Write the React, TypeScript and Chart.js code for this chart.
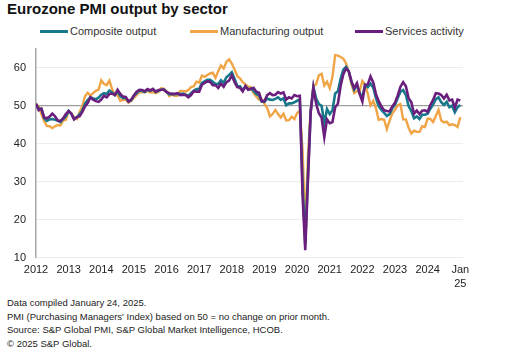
import React, { useEffect, useRef } from "react";
import { Chart, registerables } from "chart.js";

Chart.register(...registerables);

const composite = [
  50.4, 49.3, 49.1, 46.7, 46.0, 46.4, 46.5, 46.3, 46.1, 45.7, 46.5, 47.2,
  48.6, 47.9, 46.5, 46.9, 47.7, 48.7, 50.5, 51.5, 52.2, 51.9, 51.7, 52.1,
  52.9, 53.3, 53.1, 54.0, 53.5, 52.8, 53.8, 52.5, 52.0, 52.1, 51.1, 51.4,
  52.6, 53.3, 54.0, 53.9, 53.6, 54.2, 53.9, 54.3, 53.6, 53.9, 54.2, 54.3,
  53.6, 53.0, 53.1, 53.0, 53.1, 53.1, 53.2, 52.9, 52.6, 53.3, 53.9, 54.4,
  54.4, 56.0, 56.4, 56.8, 56.8, 56.3, 55.7, 55.7, 56.7, 56.0, 57.5, 58.1,
  58.8, 57.1, 55.2, 55.1, 54.1, 54.9, 54.3, 54.5, 53.9, 53.1, 52.7, 51.1,
  51.0, 51.9, 51.6, 51.5, 51.8, 52.2, 51.5, 51.9, 50.1, 50.6, 50.6, 50.9,
  51.3, 51.6, 29.7, 13.6, 31.9, 48.5, 54.9, 51.9, 50.4, 50.0, 45.3, 49.1,
  47.8, 48.8, 53.2, 53.8, 57.1, 59.5, 60.2, 59.0, 56.2, 54.2, 55.4, 53.3,
  52.3, 55.5, 54.9, 55.8, 54.8, 52.0, 49.9, 48.9, 48.1, 47.3, 47.8, 49.3,
  50.3, 52.0, 53.7, 54.1, 52.8, 49.9, 48.6, 46.7, 47.2, 46.5, 47.6, 47.6,
  47.9, 49.2, 50.3, 51.7, 52.2, 50.9, 50.2, 51.0, 49.6, 50.0, 48.3, 49.6,
  50.2,
];

const manufacturing = [
  50.5, 49.8, 47.7, 45.9, 44.7, 44.6, 44.1, 44.6, 44.9, 44.8, 46.1, 46.3,
  48.6, 48.0, 46.9, 46.5, 48.3, 49.8, 52.5, 53.4, 52.7, 53.3, 53.9, 54.2,
  56.7, 55.7, 55.4, 56.6, 54.3, 52.8, 52.8, 51.3, 51.5, 51.6, 50.8, 51.3,
  52.1, 52.8, 53.6, 53.5, 53.5, 53.9, 53.5, 53.6, 53.3, 53.6, 54.6, 54.5,
  53.8, 52.5, 52.9, 52.6, 52.6, 53.9, 53.9, 53.7, 54.1, 54.9, 55.1, 56.3,
  56.1, 57.9, 57.6, 58.1, 58.5, 58.7, 57.3, 59.1, 60.6, 59.8, 61.5, 62.2,
  61.1, 59.5, 57.8, 57.2, 56.2, 55.6, 55.0, 54.9, 53.3, 52.4, 51.6, 51.7,
  50.5, 49.4, 47.2, 47.8, 48.9, 47.8, 46.9, 47.9, 46.1, 46.2, 47.1, 46.5,
  48.0, 48.7, 38.5, 18.1, 36.8, 49.0, 55.3, 55.6, 58.0, 58.4, 55.3, 56.3,
  54.6, 57.6, 63.3, 63.2, 62.8, 62.4, 61.1, 59.0, 55.6, 53.3, 53.8, 53.8,
  56.5, 55.5, 53.1, 50.1, 51.3, 49.3, 46.3, 46.5, 46.3, 43.8, 46.0, 48.0,
  48.9, 50.1, 50.4, 46.4, 46.4, 44.2, 42.7, 43.4, 43.1, 43.1, 44.6, 44.4,
  46.6, 46.5, 45.7, 47.3, 48.9, 46.1, 45.6, 45.8, 44.9, 45.1, 44.9, 44.4,
  47.0,
];

const services = [
  50.5, 48.8, 49.2, 46.9, 46.7, 47.1, 47.9, 47.2, 46.1, 46.0, 46.7, 47.8,
  48.6, 47.9, 46.4, 47.0, 47.2, 48.3, 49.8, 50.7, 52.2, 51.6, 51.2, 51.0,
  51.6, 52.6, 52.2, 53.1, 53.2, 52.8, 54.2, 53.1, 52.4, 52.3, 51.1, 51.6,
  52.7, 53.7, 54.2, 54.1, 53.8, 54.4, 54.0, 54.4, 53.7, 54.1, 54.2, 54.2,
  53.6, 53.3, 53.1, 53.1, 53.3, 52.8, 52.9, 52.8, 52.2, 52.8, 53.8, 53.7,
  53.7, 55.5, 56.0, 56.4, 56.3, 55.4, 55.4, 54.7, 55.8, 55.0, 56.2, 56.6,
  58.0, 56.2, 54.9, 54.7, 53.8, 55.2, 54.2, 54.4, 54.7, 53.7, 53.4, 51.2,
  51.2, 52.8, 53.3, 52.8, 52.9, 53.6, 53.2, 53.5, 51.6, 52.2, 51.9, 52.8,
  52.5, 52.6, 26.4, 12.0, 30.5, 48.3, 54.7, 50.5, 48.0, 46.9, 41.7, 46.4,
  45.4, 45.7, 49.6, 50.5, 55.2, 58.3, 59.8, 59.0, 56.4, 54.6, 55.9, 53.1,
  51.1, 55.5, 55.6, 57.7, 56.1, 53.0, 51.2, 49.8, 48.8, 48.6, 48.5, 49.8,
  50.8, 52.7, 55.0, 56.2, 55.1, 52.0, 50.9, 47.9, 48.7, 47.8, 48.7, 48.8,
  48.4, 50.2, 51.5, 53.3, 53.2, 52.8, 51.9, 52.9, 51.4, 51.6, 49.5, 51.6,
  51.4,
];

const xTickLabels: (string | string[])[] = [
  "2012", "2013", "2014", "2015", "2016", "2017", "2018",
  "2019", "2020", "2021", "2022", "2023", "2024", ["Jan", "25"],
];

const yTicks = [10, 20, 30, 40, 50, 60];

const seriesNames = ["Composite output", "Manufacturing output", "Services activity"];
const seriesColors = ["#16788a", "#f0a445", "#6a1f7e"];

const FONT = "'Liberation Sans', Arial, sans-serif";

function App() {
  const canvasRef = useRef<HTMLCanvasElement | null>(null);

  useEffect(() => {
    const canvas = canvasRef.current;
    if (!canvas) return;
    const toPts = (arr: number[]) => arr.map((v, i) => ({ x: i, y: v }));
    const chart = new Chart(canvas, {
      type: "line",
      data: {
        datasets: [
          {
            label: seriesNames[2],
            data: toPts(services),
            borderColor: seriesColors[2],
            borderWidth: 2.6,
            pointRadius: 0,
            tension: 0,
            order: 0,
          },
          {
            label: seriesNames[0],
            data: toPts(composite),
            borderColor: seriesColors[0],
            borderWidth: 2.6,
            pointRadius: 0,
            tension: 0,
            order: 1,
          },
          {
            label: seriesNames[1],
            data: toPts(manufacturing),
            borderColor: seriesColors[1],
            borderWidth: 2.4,
            pointRadius: 0,
            tension: 0,
            order: 2,
          },
        ],
      },
      options: {
        responsive: false,
        animation: false,
        devicePixelRatio: 1,
        layout: { padding: { left: 0, right: 48, top: 8.7, bottom: 0 } },
        plugins: {
          legend: { display: false },
          title: { display: false },
          tooltip: { enabled: false },
        },
        scales: {
          x: {
            type: "linear",
            min: 0,
            max: 157,
            grid: { display: false, drawTicks: false },
            border: { display: false },
            afterBuildTicks: (scale: any) => {
              scale.ticks = xTickLabels.map((_, i) => ({ value: i * 12 }));
            },
            afterFit: (scale: any) => {
              scale.height = 32.3;
              scale.paddingLeft = 0;
              scale.paddingRight = 0;
            },
            ticks: {
              autoSkip: false,
              maxRotation: 0,
              minRotation: 0,
              padding: 6,
              color: "#222",
              font: { family: FONT, size: 11 },
              callback: (value: any) => xTickLabels[Math.round(Number(value) / 12)] as any,
            },
          },
          y: {
            type: "linear",
            min: 10,
            max: 65,
            afterBuildTicks: (scale: any) => {
              scale.ticks = yTicks.map((v) => ({ value: v }));
            },
            afterFit: (scale: any) => {
              scale.width = 36;
              scale.paddingTop = 0;
              scale.paddingBottom = 0;
            },
            border: { display: true, color: "#a8a8a8", width: 1.5 },
            grid: {
              drawTicks: false,
              color: (ctx: any) => (ctx.tick && ctx.tick.value === 50 ? "#9e9e9e" : "#ececec"),
              lineWidth: (ctx: any) => (ctx.tick && ctx.tick.value === 50 ? 1.3 : 1),
            },
            ticks: {
              padding: 10,
              color: "#222",
              font: { family: FONT, size: 11 },
            },
          },
        },
      },
    });
    return () => chart.destroy();
  }, []);

  const legendItems = [
    { name: seriesNames[0], color: seriesColors[0], left: 40 },
    { name: seriesNames[1], color: seriesColors[1], left: 190 },
    { name: seriesNames[2], color: seriesColors[2], left: 355 },
  ];

  const notes = [
    "Data compiled January 24, 2025.",
    "PMI (Purchasing Managers' Index) based on 50 = no change on prior month.",
    "Source: S&P Global PMI, S&P Global Market Intelligence, HCOB.",
    "\u00a9 2025 S&P Global.",
  ];

  return (
    <div
      style={{
        position: "fixed",
        left: 0,
        top: 0,
        width: 511,
        height: 364,
        background: "#fff",
        fontFamily: FONT,
        overflow: "hidden",
      }}
    >
      <div
        style={{
          position: "absolute",
          left: 7,
          top: 0,
          fontSize: 15,
          fontWeight: "bold",
          color: "#111",
          lineHeight: "17px",
          whiteSpace: "nowrap",
        }}
      >
        Eurozone PMI output by sector
      </div>
      {legendItems.map((it) => (
        <div
          key={it.name}
          style={{
            position: "absolute",
            left: it.left,
            top: 24,
            height: 14,
            display: "flex",
            alignItems: "center",
            whiteSpace: "nowrap",
          }}
        >
          <div style={{ width: 28, height: 3, background: it.color, marginRight: 2 }} />
          <span style={{ fontSize: 11, color: "#333", lineHeight: "14px" }}>{it.name}</span>
        </div>
      ))}
      <canvas
        ref={canvasRef}
        width={511}
        height={250}
        style={{ position: "absolute", left: 0, top: 40, width: 511, height: 250 }}
      />
      <div style={{ position: "absolute", left: 7, top: 296, fontSize: 9.5, color: "#222", lineHeight: "13.5px" }}>
        {notes.map((n) => (
          <div key={n} style={{ whiteSpace: "nowrap" }}>{n}</div>
        ))}
      </div>
    </div>
  );
}

export default App;
